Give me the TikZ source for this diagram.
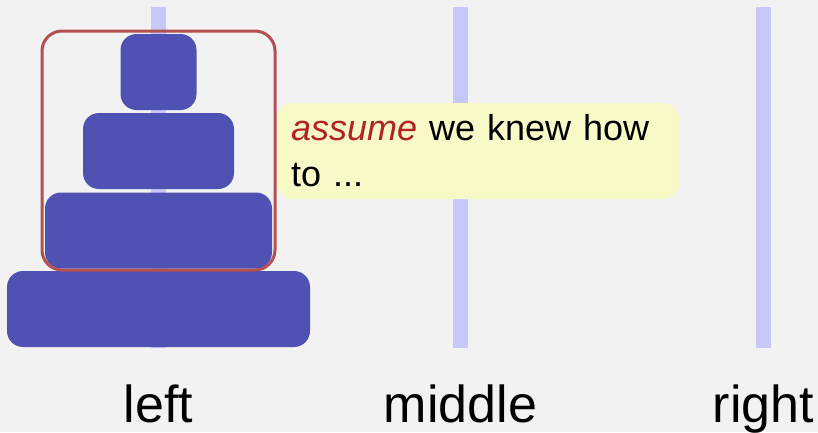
\documentclass[tikz,border=0pt]{standalone}
\usepackage{fontspec}
\setmainfont{Liberation Sans}
\definecolor{bg}{HTML}{F2F2F2}
\definecolor{pegcol}{HTML}{C8C8F8}
\definecolor{diskcol}{HTML}{4F52B2}
\definecolor{framecol}{HTML}{B45050}
\definecolor{notecol}{HTML}{F9F9C8}
\definecolor{emred}{HTML}{B22222}
\tikzset{
  pegbar/.style={fill=pegcol, draw=none, inner sep=0pt, minimum width=15pt, minimum height=341pt},
  disk/.style={fill=diskcol, draw=none, inner sep=0pt, minimum height=76pt, rounded corners=16pt},
  selframe/.style={draw=framecol, line width=3pt, inner sep=0pt, rounded corners=20pt, minimum width=233pt, minimum height=239pt},
  note/.style={fill=notecol, draw=none, rounded corners=16pt, inner sep=0pt, minimum width=402pt, minimum height=96pt, text width=374pt, align=left, font=\fontsize{36}{46}\selectfont},
  peglabel/.style={anchor=base, inner sep=0pt, font=\fontsize{52}{60}\selectfont}
}
\begin{document}
\begin{tikzpicture}[x=1pt,y=-1pt]
\useasboundingbox[fill=bg] (0,0) rectangle (818,432);
\node[pegbar] (pegL) at (158.5,177.5) {};
\node[pegbar] (pegM) at (460.5,177.5) {};
\node[pegbar] (pegR) at (763.5,177.5) {};
\node[disk, minimum width=76pt] (d1) at (158.5,72) {};
\node[disk, minimum width=151pt] (d2) at (158.5,151) {};
\node[disk, minimum width=227pt] (d3) at (158.5,230.5) {};
\node[disk, minimum width=303pt] (d4) at (158.5,309) {};
\node[selframe] (frame) at (158.5,150.5) {};
\node[note] (callout) at (478,151) {{\itshape\color{emred}assume} we knew how to ...};
\node[peglabel] (lblL) at (158.5,422) {left};
\node[peglabel] (lblM) at (460.5,422) {middle};
\node[peglabel] (lblR) at (763.5,422) {right};
\end{tikzpicture}
\end{document}
